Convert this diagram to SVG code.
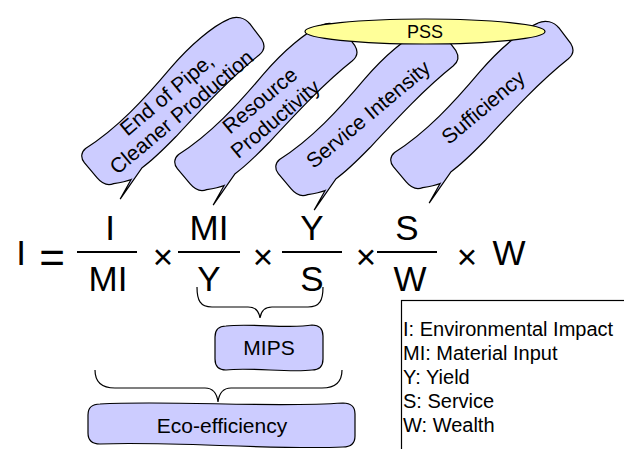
<svg xmlns="http://www.w3.org/2000/svg" width="624" height="449" viewBox="0 0 624 449">
<defs>
<style>
.co{fill:#CCCCFF;stroke:#000;stroke-width:1.2}
.t{font-family:"Liberation Sans",Arial,sans-serif;fill:#000}
.ct{font-size:21px;text-anchor:middle}
.f{font-size:35px;text-anchor:middle}
.fl{stroke:#000;stroke-width:2;fill:none}
.br{stroke:#000;stroke-width:1.2;fill:none}
.lg{font-size:20px}
</style>
<path id="callout" d="M -97,-22 C -60,-17 -20,-22 20,-29 C 50,-34 80,-34 96,-29 C 104,-27 109,-20 109,-12 L 108,8 C 107,15 103,18 96,18 C 60,17 20,22 -20,27 C -40,29 -55,30 -66,29 L -103,39 L -82,31 C -88,29 -93,26 -98,23 C -104,21 -107,16 -107,8 L -107,-12 C -107,-18 -103,-22 -97,-22 Z"/>
</defs>
<rect width="624" height="449" fill="#fff"/>

<g id="callout-endofpipe" transform="translate(174,103) rotate(-40)">
<use href="#callout" class="co"/>
<text class="t ct" x="0" y="-4">End of Pipe,</text>
<text class="t ct" x="0" y="19">Cleaner Production</text>
</g>
<g id="callout-resource" transform="translate(267,109) rotate(-40)">
<use href="#callout" class="co"/>
<text class="t ct" x="0" y="-4">Resource</text>
<text class="t ct" x="0" y="20">Productivity</text>
</g>
<g id="callout-service" transform="translate(368,114) rotate(-40)">
<use href="#callout" class="co"/>
<text class="t ct" x="0" y="7.5">Service Intensity</text>
</g>
<g id="callout-sufficiency" transform="translate(483,107) rotate(-40)">
<use href="#callout" class="co"/>
<text class="t ct" x="0" y="7.5">Sufficiency</text>
</g>

<g id="pss">
<ellipse cx="425" cy="31.5" rx="120" ry="12.5" fill="#FFFF99" stroke="#000" stroke-width="1.2"/>
<text class="t" x="425" y="38" font-size="18" text-anchor="middle">PSS</text>
</g>

<g id="formula">
<text class="t f" x="21" y="265">I</text>
<text class="t" x="52" y="273" font-size="44" text-anchor="middle">=</text>
<line class="fl" x1="77" y1="252" x2="137" y2="252"/>
<text class="t f" x="110" y="240">I</text>
<text class="t f" x="108" y="291">MI</text>
<text class="t f" x="163" y="269">×</text>
<line class="fl" x1="178" y1="252" x2="240" y2="252"/>
<text class="t f" x="209" y="240">MI</text>
<text class="t f" x="209" y="291">Y</text>
<text class="t f" x="263" y="269">×</text>
<line class="fl" x1="282" y1="252" x2="342" y2="252"/>
<text class="t f" x="312" y="240">Y</text>
<text class="t f" x="312" y="291">S</text>
<text class="t f" x="366" y="269">×</text>
<line class="fl" x1="377" y1="252" x2="437" y2="252"/>
<text class="t f" x="407" y="240">S</text>
<text class="t f" x="410" y="291">W</text>
<text class="t f" x="467" y="269">×</text>
<text class="t f" x="509" y="265">W</text>
</g>

<g id="connectors">
<path class="br" d="M197,287 C197,300 200,307 212,307 L248,307 C255,307 259,311 260,318 C261,311 265,307 272,307 L308,307 C320,307 323,300 323,287"/>
<path class="br" d="M95,370 C95,383 102,388 115,388 L205,388 C213,388 217,394 218,402 C219,394 223,388 231,388 L322,388 C335,388 342,383 342,370"/>
</g>

<g id="mips">
<path class="co" d="M226,326 C250,323 290,329 312,325 Q323,325 323,336 L323,359 Q323,370 312,370 C290,373 250,367 226,370 Q215,370 215,359 L215,337 Q215,326 226,326 Z"/>
<text class="t" x="269" y="355" font-size="21" text-anchor="middle">MIPS</text>
</g>

<g id="ecoefficiency">
<path class="co" d="M100,404 C170,400 270,408 343,403 Q355,403 355,414 L355,436 Q355,447 343,447 C270,450 170,441 100,444 Q88,444 88,433 L88,415 Q88,404 100,404 Z"/>
<text class="t" x="222" y="433" font-size="21" text-anchor="middle">Eco-efficiency</text>
</g>

<g id="legend">
<rect x="401.5" y="300.5" width="260" height="200" fill="#fff" stroke="#000" stroke-width="1.2"/>
<text class="t lg" x="403" y="336">I: Environmental Impact</text>
<text class="t lg" x="403" y="360">MI: Material Input</text>
<text class="t lg" x="403" y="384">Y: Yield</text>
<text class="t lg" x="403" y="408">S: Service</text>
<text class="t lg" x="403" y="432">W: Wealth</text>
</g>
</svg>
